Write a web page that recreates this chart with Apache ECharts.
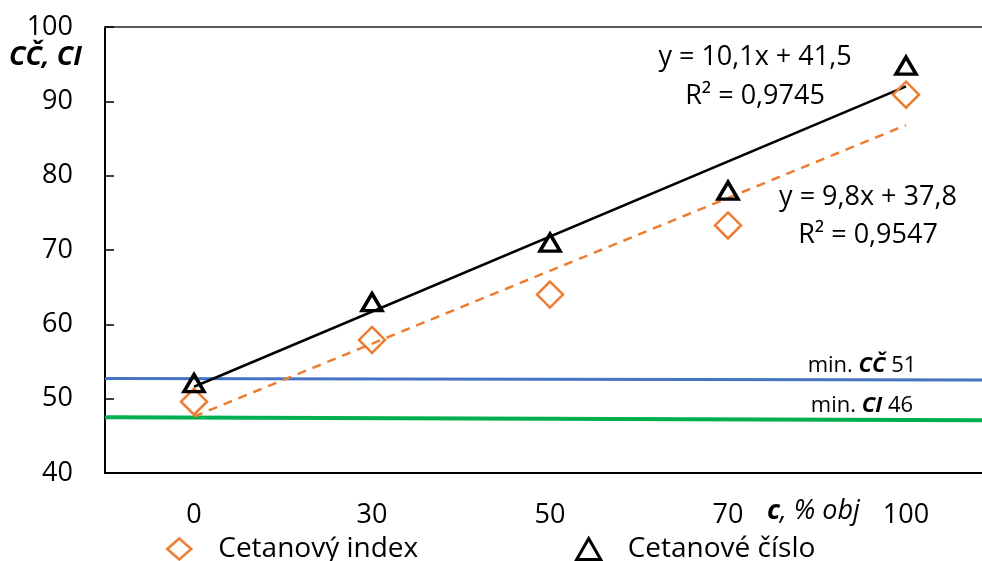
<!DOCTYPE html>
<html>
<head>
<meta charset="utf-8">
<script src="https://cdn.jsdelivr.net/npm/echarts@6/dist/echarts.min.js"></script>
<style>
  html, body { margin: 0; padding: 0; background: #fff; }
  #chart { width: 982px; height: 561px; }
</style>
</head>
<body>
<div id="chart"></div>
<script>
// categories on the x axis (% obj)
const categories = ['0', '30', '50', '70', '100'];
// measured points
const cetanovyIndex = [49.6, 57.9, 64.0, 73.3, 90.9];
const cetanoveCislo = [52.1, 63.0, 71.0, 78.0, 94.8];
// trendline end values (first and last category), from the printed equations
const trendCislo = [51.6, 92.0];   // y = 10,1x + 41,5
const trendIndex = [47.6, 86.8];   // y = 9,8x + 37,8
// limit lines as drawn (left end, right end)
const minCC = [52.7, 52.5];
const minCI = [47.5, 47.1];

const font = '"Open Sans", sans-serif';

let option = {
  animation: false,
  textStyle: { fontFamily: font },
  grid: { left: 105, width: 890, top: 27, bottom: 88, outerBoundsMode: 'none' },
  legend: {
    left: 161,
    top: 530,
    itemGap: 157,
    itemWidth: 24,
    itemHeight: 21,
    textStyle: { fontSize: 28, color: '#000', padding: [0, 0, 0, 22] },
    data: [
      { name: 'Cetanový index', icon: 'diamond',
        itemStyle: { color: 'rgba(255,255,255,0)', borderColor: '#ED7D31', borderWidth: 2.5 } },
      { name: 'Cetanové číslo', icon: 'triangle',
        itemStyle: { color: 'rgba(255,255,255,0)', borderColor: '#000', borderWidth: 3 } }
    ]
  },
  xAxis: [
    {
      type: 'category',
      data: categories,
      boundaryGap: true,
      axisLine: { lineStyle: { color: '#000', width: 2 } },
      axisTick: { inside: true, alignWithLabel: true, length: 7, lineStyle: { color: '#000', width: 1.5 } },
      axisLabel: { fontSize: 27, color: '#000', margin: 29 },
      splitLine: { show: false }
    },
    {
      type: 'value',
      position: 'top',
      min: 0,
      max: 1,
      axisLine: { show: true, lineStyle: { color: '#595959', width: 2 } },
      axisTick: { show: false },
      axisLabel: { show: false },
      splitLine: { show: false }
    }
  ],
  yAxis: {
    type: 'value',
    min: 40,
    max: 100,
    interval: 10,
    axisLine: { show: true, lineStyle: { color: '#000', width: 2 } },
    axisTick: { show: true, inside: true, length: 9, lineStyle: { color: '#000', width: 1.5 } },
    axisLabel: { fontSize: 27, color: '#000', margin: 32 },
    splitLine: { show: false }
  },
  graphic: [
    {
      type: 'text', left: 9, top: 44,
      style: { text: 'CČ, CI', font: 'italic bold 27px ' + font, fill: '#000' }
    },
    {
      type: 'text', left: 767, top: 498,
      style: {
        text: '{b|c}{i|, % obj}',
        rich: {
          b: { font: 'italic bold 27px ' + font, fill: '#000' },
          i: { font: 'italic 27px ' + font, fill: '#000' }
        }
      }
    },
    {
      type: 'text', x: 755, y: 57,
      style: { text: 'y = 10,1x + 41,5', font: '27px ' + font, fill: '#000', align: 'center', verticalAlign: 'middle' }
    },
    {
      type: 'text', x: 755, y: 96,
      style: { text: 'R² = 0,9745', font: '27px ' + font, fill: '#000', align: 'center', verticalAlign: 'middle' }
    },
    {
      type: 'text', x: 868, y: 197,
      style: { text: 'y = 9,8x + 37,8', font: '27px ' + font, fill: '#000', align: 'center', verticalAlign: 'middle' }
    },
    {
      type: 'text', x: 868, y: 235,
      style: { text: 'R² = 0,9547', font: '27px ' + font, fill: '#000', align: 'center', verticalAlign: 'middle' }
    },
    {
      type: 'text', x: 862, y: 366,
      style: {
        text: 'min. {b|CČ} 51', font: '22px ' + font, fill: '#000', align: 'center', verticalAlign: 'middle',
        rich: { b: { font: 'italic bold 22px ' + font, fill: '#000' } }
      }
    },
    {
      type: 'text', x: 862, y: 406,
      style: {
        text: 'min. {b|CI} 46', font: '22px ' + font, fill: '#000', align: 'center', verticalAlign: 'middle',
        rich: { b: { font: 'italic bold 22px ' + font, fill: '#000' } }
      }
    }
  ],
  series: [
    {
      name: 'min CČ',
      type: 'line',
      xAxisIndex: 1,
      symbol: 'none',
      lineStyle: { color: '#4472C4', width: 3 },
      data: [[0, minCC[0]], [1, minCC[1]]],
      z: 1
    },
    {
      name: 'min CI',
      type: 'line',
      xAxisIndex: 1,
      symbol: 'none',
      lineStyle: { color: '#00B050', width: 4 },
      data: [[0, minCI[0]], [1, minCI[1]]],
      z: 1
    },
    {
      name: 'trend CČ',
      type: 'line',
      symbol: 'none',
      lineStyle: { color: '#000', width: 2.5 },
      data: [[categories[0], trendCislo[0]], [categories[4], trendCislo[1]]],
      z: 2
    },
    {
      name: 'trend CI',
      type: 'line',
      symbol: 'none',
      lineStyle: { color: '#ED7D31', width: 2.5, type: [9, 7] },
      data: [[categories[0], trendIndex[0]], [categories[4], trendIndex[1]]],
      z: 2
    },
    {
      name: 'Cetanový index',
      type: 'scatter',
      symbol: 'diamond',
      symbolSize: [26, 26],
      itemStyle: { color: 'rgba(255,255,255,0)', borderColor: '#ED7D31', borderWidth: 2.5, opacity: 1 },
      data: cetanovyIndex,
      z: 3
    },
    {
      name: 'Cetanové číslo',
      type: 'scatter',
      symbol: 'triangle',
      symbolSize: [20, 17],
      itemStyle: { color: 'rgba(255,255,255,0)', borderColor: '#000', borderWidth: 3.5, opacity: 1 },
      data: cetanoveCislo,
      z: 4
    }
  ]
};

let myChart = echarts.init(document.getElementById('chart'));
myChart.setOption(option);
</script>
</body>
</html>
